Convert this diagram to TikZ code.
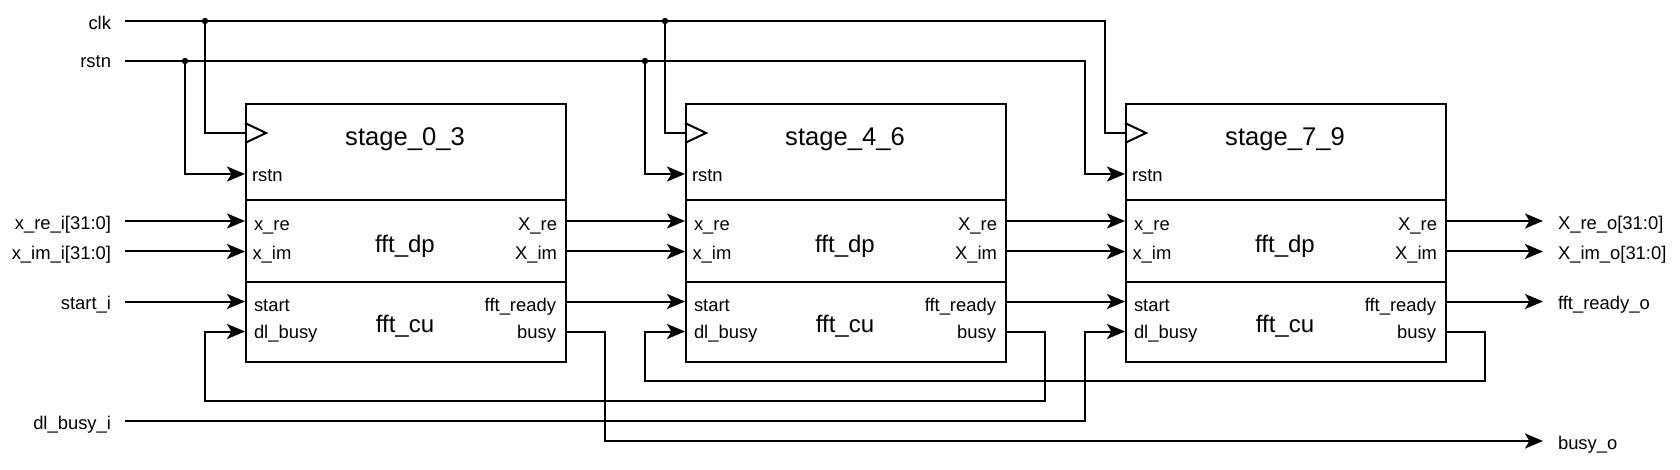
\documentclass[tikz,border=0pt]{standalone}
\usepackage{fontspec}
\setmainfont{Liberation Sans}
\usetikzlibrary{arrows.meta}
\begin{document}
\begin{tikzpicture}[x=0.5pt,y=-0.5pt,
  line width=1pt,
  arr/.style={-{Stealth[length=9pt,width=7.5pt,inset=2.2pt]}},
  sect/.style={draw,rectangle,inner sep=0pt,anchor=north west,minimum width=160pt},
  plbl/.style={inner sep=0pt,font=\fontsize{9.2}{11}\selectfont},
  olbl/.style={inner sep=0pt,font=\fontsize{9.2}{11}\selectfont},
  ttl/.style={inner sep=0pt,anchor=base,font=\fontsize{12.8}{15}\selectfont},
  ctr/.style={inner sep=0pt,anchor=base,font=\fontsize{12}{14}\selectfont},
  dot/.style={fill,circle,inner sep=0pt,minimum size=3.2pt}]
\useasboundingbox (0,0) rectangle (1680,470);

% ---------- stages ----------
\foreach \i/\x/\name in {1/245/stage\_0\_3, 2/685/stage\_4\_6, 3/1125/stage\_7\_9}{
  \node[sect,minimum height=48pt] (h\i) at (\x,103) {};
  \node[sect,minimum height=41pt] (dp\i) at (\x,199) {};
  \node[sect,minimum height=40pt] (cu\i) at (\x,281) {};
  \draw (\x,123) -- ({\x+21},133) -- (\x,143);
  \node[ttl] (t\i) at ({\x+160},145.5) {\name};
  \node[ctr] (dpl\i) at ({\x+160},252.5) {fft\_dp};
  \node[ctr] (cul\i) at ({\x+160},332.5) {fft\_cu};
  \node[plbl,anchor=base west] (prs\i) at ({\x+6},182) {rstn};
  \node[plbl,anchor=base west] (pxre\i) at ({\x+8},231) {x\_re};
  \node[plbl,anchor=base west] (pxim\i) at ({\x+6.5},259) {x\_im};
  \node[plbl,anchor=base west] (pst\i) at ({\x+8},311) {start};
  \node[plbl,anchor=base west] (pdl\i) at ({\x+8},338) {dl\_busy};
  \node[plbl,anchor=base east] (pXre\i) at ({\x+313},231) {X\_re};
  \node[plbl,anchor=base east] (pXim\i) at ({\x+313},259) {X\_im};
  \node[plbl,anchor=base east] (pfr\i) at ({\x+312},311) {fft\_ready};
  \node[plbl,anchor=base east] (pbs\i) at ({\x+312},338) {busy};
  \coordinate (ck\i) at (\x,133);
  \coordinate (rs\i) at (\x,174);
  \coordinate (xre\i) at (\x,221);
  \coordinate (xim\i) at (\x,251.5);
  \coordinate (st\i) at (\x,301.5);
  \coordinate (dl\i) at (\x,331.5);
  \coordinate (Xre\i) at ({\x+320},221);
  \coordinate (Xim\i) at ({\x+320},251.5);
  \coordinate (fr\i) at ({\x+320},301.5);
  \coordinate (bs\i) at ({\x+320},331.5);
}

% ---------- input labels ----------
\node[olbl,anchor=base east] (lclk) at (112,29.5) {clk};
\node[olbl,anchor=base east] (lrst) at (112,67.5) {rstn};
\node[olbl,anchor=base east] (lxre) at (112,229.5) {x\_re\_i[31:0]};
\node[olbl,anchor=base east] (lxim) at (112,260) {x\_im\_i[31:0]};
\node[olbl,anchor=base east] (lst) at (112,309.5) {start\_i};
\node[olbl,anchor=base east] (ldl) at (112,429) {dl\_busy\_i};
\coordinate (clkin) at (125,21);
\coordinate (rstin) at (125,61);
\coordinate (xrein) at (125,221);
\coordinate (ximin) at (125,251.5);
\coordinate (stin) at (125,301.5);
\coordinate (dlin) at (125,421);

% ---------- output labels ----------
\node[olbl,anchor=base west] (oXre) at (1557,229.5) {X\_re\_o[31:0]};
\node[olbl,anchor=base west] (oXim) at (1557,260) {X\_im\_o[31:0]};
\node[olbl,anchor=base west] (ofr) at (1557,309.5) {fft\_ready\_o};
\node[olbl,anchor=base west] (obs) at (1557,449) {busy\_o};
\coordinate (Xreout) at (1543,221);
\coordinate (Ximout) at (1543,251.5);
\coordinate (frout) at (1543,301.5);
\coordinate (bsout) at (1543,441);

% ---------- clock ----------
\coordinate (jc1) at (205,21);
\coordinate (jc2) at (665,21);
\coordinate (tc3) at (1105,133);
\draw (clkin) -| (tc3) -- (ck3);
\draw (jc1) |- (ck1);
\draw (jc2) |- (ck2);
\node[dot] (dc1) at (jc1) {};
\node[dot] (dc2) at (jc2) {};

% ---------- reset ----------
\coordinate (jr1) at (185,61);
\coordinate (jr2) at (645,61);
\coordinate (tr3) at (1085,174);
\draw[arr] (rstin) -| (tr3) -- (rs3);
\draw[arr] (jr1) |- (rs1);
\draw[arr] (jr2) |- (rs2);
\node[dot] (dr1) at (jr1) {};
\node[dot] (dr2) at (jr2) {};

% ---------- data path ----------
\draw[arr] (xrein) -- (xre1);
\draw[arr] (ximin) -- (xim1);
\draw[arr] (stin) -- (st1);
\draw[arr] (Xre1) -- (xre2);
\draw[arr] (Xim1) -- (xim2);
\draw[arr] (fr1) -- (st2);
\draw[arr] (Xre2) -- (xre3);
\draw[arr] (Xim2) -- (xim3);
\draw[arr] (fr2) -- (st3);
\draw[arr] (Xre3) -- (Xreout);
\draw[arr] (Xim3) -- (Ximout);
\draw[arr] (fr3) -- (frout);

% ---------- busy chain ----------
\coordinate (b2a) at (1045,401);
\coordinate (b2b) at (205,331.5);
\draw[arr] (bs2) -| (b2a) -| (b2b) -- (dl1);
\coordinate (b3a) at (1485,381);
\coordinate (b3b) at (645,331.5);
\draw[arr] (bs3) -| (b3a) -| (b3b) -- (dl2);
\coordinate (b1a) at (605,441);
\draw[arr] (bs1) -| (b1a) -- (bsout);
\coordinate (dla) at (1085,331.5);
\draw[arr] (dlin) -| (dla) -- (dl3);
\end{tikzpicture}
\end{document}
